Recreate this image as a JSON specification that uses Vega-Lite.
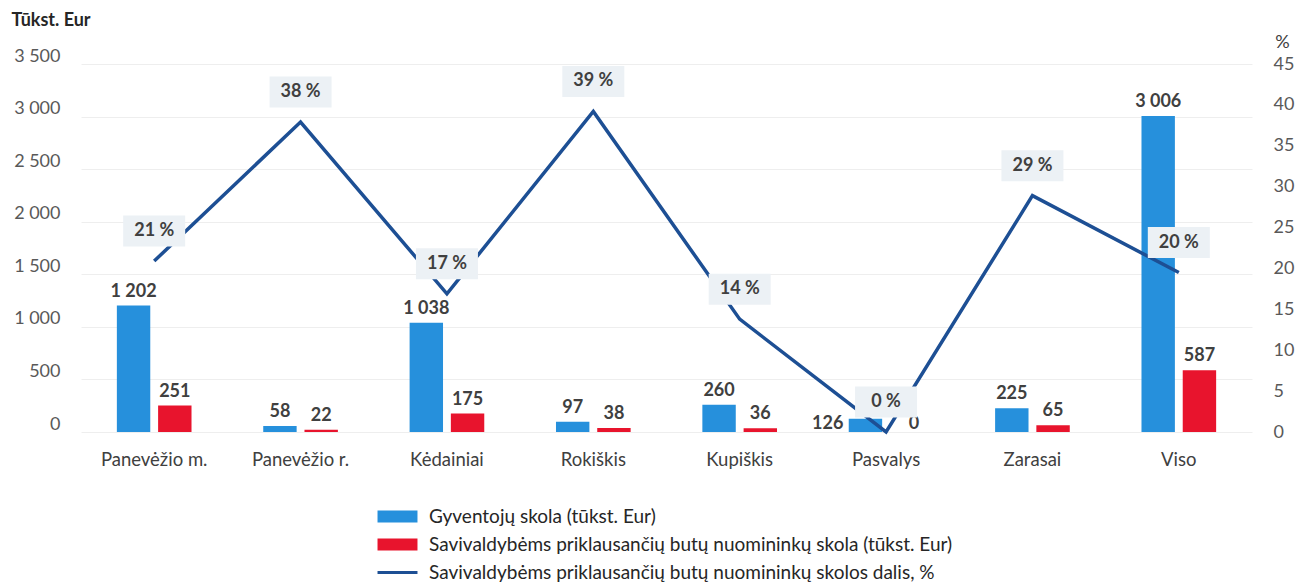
{
  "$schema": "https://vega.github.io/schema/vega-lite/v6.json",
  "width": 1171,
  "height": 368,
  "autosize": {"type": "none"},
  "padding": {"left": 81, "top": 64, "right": 61, "bottom": 150},
  "background": "white",
  "config": {
    "locale": {"number": {"decimal": ",", "thousands": " ", "grouping": [3], "currency": ["", " €"]}},
    "font": "Lato",
    "view": {"stroke": null},
    "axis": {"domain": false, "ticks": false, "labelFont": "Lato", "labelFontSize": 18, "labelColor": "#595959"}
  },
  "datasets": {
    "bars": [
      {"name": "Panevėžio m.", "series": "Gyventojų skola (tūkst. Eur)", "value": 1202},
      {"name": "Panevėžio m.", "series": "Savivaldybėms priklausančių butų nuomininkų skola (tūkst. Eur)", "value": 251},
      {"name": "Panevėžio r.", "series": "Gyventojų skola (tūkst. Eur)", "value": 58},
      {"name": "Panevėžio r.", "series": "Savivaldybėms priklausančių butų nuomininkų skola (tūkst. Eur)", "value": 22},
      {"name": "Kėdainiai", "series": "Gyventojų skola (tūkst. Eur)", "value": 1038},
      {"name": "Kėdainiai", "series": "Savivaldybėms priklausančių butų nuomininkų skola (tūkst. Eur)", "value": 175},
      {"name": "Rokiškis", "series": "Gyventojų skola (tūkst. Eur)", "value": 97},
      {"name": "Rokiškis", "series": "Savivaldybėms priklausančių butų nuomininkų skola (tūkst. Eur)", "value": 38},
      {"name": "Kupiškis", "series": "Gyventojų skola (tūkst. Eur)", "value": 260},
      {"name": "Kupiškis", "series": "Savivaldybėms priklausančių butų nuomininkų skola (tūkst. Eur)", "value": 36},
      {"name": "Pasvalys", "series": "Gyventojų skola (tūkst. Eur)", "value": 126},
      {"name": "Pasvalys", "series": "Savivaldybėms priklausančių butų nuomininkų skola (tūkst. Eur)", "value": 0},
      {"name": "Zarasai", "series": "Gyventojų skola (tūkst. Eur)", "value": 225},
      {"name": "Zarasai", "series": "Savivaldybėms priklausančių butų nuomininkų skola (tūkst. Eur)", "value": 65},
      {"name": "Viso", "series": "Gyventojų skola (tūkst. Eur)", "value": 3006},
      {"name": "Viso", "series": "Savivaldybėms priklausančių butų nuomininkų skola (tūkst. Eur)", "value": 587}
    ],
    "line": [
      {"name": "Panevėžio m.", "pct": 20.9},
      {"name": "Panevėžio r.", "pct": 37.9},
      {"name": "Kėdainiai", "pct": 16.9},
      {"name": "Rokiškis", "pct": 39.2},
      {"name": "Kupiškis", "pct": 13.8},
      {"name": "Pasvalys", "pct": 0},
      {"name": "Zarasai", "pct": 28.9},
      {"name": "Viso", "pct": 19.5}
    ]
  },
  "layer": [
    {
      "data": {"name": "bars"},
      "encoding": {
        "x": {"field": "name", "type": "nominal", "title": null,
          "scale": {"domain": ["Panevėžio m.", "Panevėžio r.", "Kėdainiai", "Rokiškis", "Kupiškis", "Pasvalys", "Zarasai", "Viso"], "paddingInner": 0.49, "paddingOuter": 0.245},
          "axis": {"labelAngle": 0, "labelPadding": 18, "labelColor": "#404040", "labelFontSize": 18.5}},
        "xOffset": {"field": "series", "type": "nominal", "scale": {"paddingInner": 0.19, "paddingOuter": 0}},
        "y": {"field": "value", "type": "quantitative", "title": "Tūkst. Eur",
          "scale": {"domain": [0, 3500]},
          "axis": {"values": [0, 500, 1000, 1500, 2000, 2500, 3000, 3500], "format": ",d", "grid": true, "gridColor": "#eeeeee", "labelPadding": 21, "labelOffset": -8,
            "titleAngle": 0, "titleAlign": "left", "titleBaseline": "middle", "titleX": -70, "titleY": -44, "titleFontSize": 18, "titleFontWeight": "bold", "titleColor": "#262626", "titleFont": "Lato"}}
      },
      "layer": [
        {"mark": {"type": "bar"},
          "encoding": {"color": {"field": "series", "type": "nominal",
            "scale": {"domain": ["Gyventojų skola (tūkst. Eur)", "Savivaldybėms priklausančių butų nuomininkų skola (tūkst. Eur)", "Savivaldybėms priklausančių butų nuomininkų skolos dalis, %"], "range": ["#2690dc", "#e8142d", "#1d4f94"]},
            "legend": {"orient": "none", "legendX": 307, "legendY": 443, "title": null, "direction": "vertical", "symbolSize": 144, "rowPadding": 8, "labelFontSize": 19, "labelFont": "Lato", "labelColor": "#262626", "labelOffset": 22, "labelLimit": 0, "padding": 0,
              "encode": {"symbols": {"update": {
                "shape": {"signal": "indexof(datum.value, 'dalis') >= 0 ? 'M-3.33,-0.25H3.33V0.25H-3.33Z' : 'M-3.33,-1H3.33V1H-3.33Z'"},
                "fill": {"signal": "scale('color', datum.value)"},
                "stroke": {"value": "transparent"},
                "strokeWidth": {"value": 0},
                "opacity": {"value": 1}}}}}}}},
        {"transform": [{"filter": "datum.name !== 'Pasvalys'"}],
          "mark": {"type": "text", "baseline": "alphabetic", "dy": -9, "fontSize": 18, "fontWeight": "bold", "color": "#404040", "font": "Lato"},
          "encoding": {"text": {"field": "value", "type": "quantitative", "format": ",d"}}},
        {"transform": [{"filter": "datum.name === 'Pasvalys' && datum.value > 0"}],
          "mark": {"type": "text", "baseline": "middle", "align": "right", "dx": -22, "dy": 5, "fontSize": 18, "fontWeight": "bold", "color": "#404040", "font": "Lato"},
          "encoding": {"text": {"field": "value", "type": "quantitative", "format": ",d"}}},
        {"transform": [{"filter": "datum.name === 'Pasvalys' && datum.value === 0"}],
          "mark": {"type": "text", "baseline": "middle", "align": "left", "dx": 2, "dy": -8, "fontSize": 18, "fontWeight": "bold", "color": "#404040", "font": "Lato"},
          "encoding": {"text": {"field": "value", "type": "quantitative", "format": ",d"}}}
      ]
    },
    {
      "data": {"name": "line"},
      "transform": [{"calculate": "format(datum.pct, '.0f') + ' %'", "as": "label"}],
      "encoding": {
        "x": {"field": "name", "type": "nominal"},
        "y": {"field": "pct", "type": "quantitative", "title": "%",
          "scale": {"domain": [0, 45]},
          "axis": {"orient": "right", "values": [0, 5, 10, 15, 20, 25, 30, 35, 40, 45], "grid": false, "labelPadding": 21,
            "titleAngle": 0, "titleAlign": "center", "titleBaseline": "middle", "titleX": 30, "titleY": -22, "titleFontSize": 18, "titleFontWeight": "normal", "titleColor": "#404040", "titleFont": "Lato"}}
      },
      "layer": [
        {"mark": {"type": "line", "strokeWidth": 3.5, "strokeJoin": "miter"},
          "encoding": {"color": {"datum": "Savivaldybėms priklausančių butų nuomininkų skolos dalis, %"}}},
        {"mark": {"type": "point", "shape": "M-1,-0.5H1V0.5H-1Z", "filled": true, "size": 3844, "color": "#ecf1f5", "opacity": 1, "yOffset": -30}},
        {"mark": {"type": "text", "baseline": "middle", "yOffset": -30, "fontSize": 18, "fontWeight": "bold", "color": "#404040", "font": "Lato"},
          "encoding": {"text": {"field": "label", "type": "nominal"}}}
      ]
    }
  ],
  "resolve": {"scale": {"y": "independent"}}
}
